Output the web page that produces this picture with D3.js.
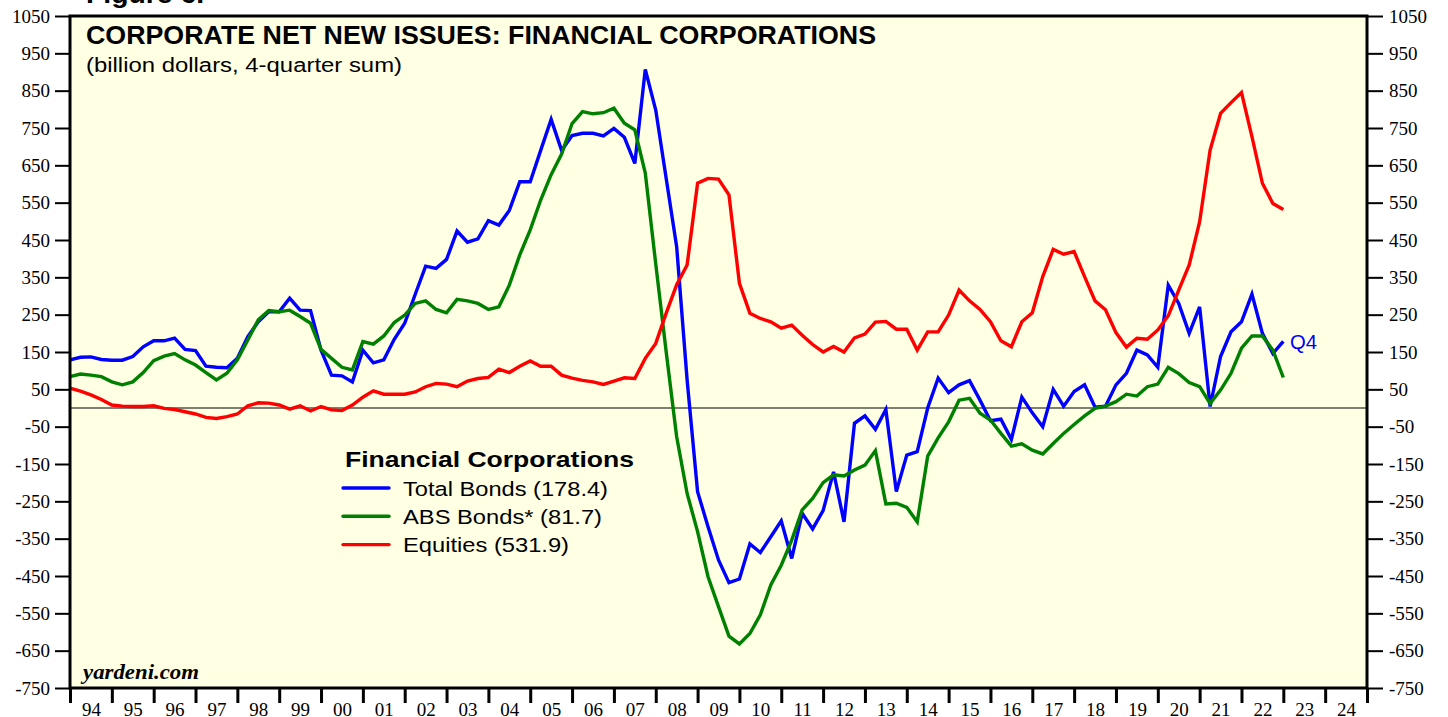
<!DOCTYPE html>
<html>
<head>
<meta charset="utf-8">
<script src="https://cdn.jsdelivr.net/npm/d3@7"></script>
<style>
  html, body { margin: 0; padding: 0; background: #fff; }
  svg { display: block; }
</style>
</head>
<body>
<div id="chart"></div>
<script>
/* Quarterly data, first point = 1993 Q4 (plotted at 1994.0), last = 2022 Q4 */
var startYear = 1994;
var yearLabels = ["94","95","96","97","98","99","00","01","02","03","04","05","06","07","08","09",
                  "10","11","12","13","14","15","16","17","18","19","20","21","22","23","24"];
var yTicks = [-750,-650,-550,-450,-350,-250,-150,-50,50,150,250,350,450,550,650,750,850,950,1050];

var totalBonds = [
  129,136,137,130,128,128,138,164,180,180,187,157,154,112,109,108,
  133,191,231,258,258,294,262,261,155,88,86,70,155,121,129,184,
  227,304,380,374,398,474,444,453,502,490,529,606,606,690,773,690,
  730,736,736,729,749,725,655,907,798,615,432,75,-224,-318,-407,-468,
  -458,-364,-387,-345,-302,-403,-282,-324,-275,-171,-305,-41,-21,-57,-4,-224,
  -126,-117,0,80,41,62,73,21,-34,-30,-84,29,-13,-50,50,5,
  44,62,2,5,62,93,155,142,109,329,280,200,271,4,138,204,
  231,305,200,146,178.4
];
var absBonds = [
  84,91,88,84,70,62,70,95,127,139,146,129,115,95,75,93,
  129,182,236,261,258,262,245,227,157,133,109,102,178,171,193,229,
  249,280,287,264,255,291,287,280,264,271,329,410,477,557,625,680,
  762,794,788,791,803,763,745,629,386,150,-77,-229,-331,-452,-532,-611,
  -632,-604,-554,-474,-421,-354,-273,-242,-200,-179,-182,-166,-153,-114,-257,-255,
  -266,-305,-129,-80,-37,21,26,-14,-32,-68,-102,-96,-113,-123,-95,-68,
  -44,-21,-1,5,17,37,32,57,64,109,92,68,57,12,48,93,
  160,193,193,155,81.7
];
var equities = [
  53,45,35,23,8,5,4,4,6,-1,-4,-10,-16,-25,-28,-23,
  -16,6,14,13,8,-3,6,-8,4,-5,-7,8,29,46,37,37,
  37,43,57,66,64,57,72,79,82,104,95,112,126,112,112,88,
  80,74,70,63,72,81,79,133,173,254,330,383,602,615,613,571,
  334,254,240,231,214,222,195,170,150,165,150,188,198,230,232,211,
  211,155,204,204,249,316,287,264,231,180,164,231,255,352,425,412,
  419,352,287,263,202,163,187,184,209,247,316,383,499,691,789,818,
  845,727,602,548,531.9
];

var seriesNames = ["Total Bonds (178.4)", "ABS Bonds* (81.7)", "Equities (531.9)"];
var seriesColors = ["#0000ff", "#008000", "#ff0000"];

(function () {
  "use strict";

  var W = 1448, H = 717;
  var x0 = 70, x1 = 1367, y0 = 16, y1 = 688;

  var svg = d3.select("#chart").append("svg")
    .attr("width", W).attr("height", H)
    .style("background", "#fff");

  var x = d3.scaleLinear().domain([startYear, startYear + yearLabels.length]).range([x0, x1]);
  var y = d3.scaleLinear().domain([-750, 1050]).range([y1, y0]);

  var sans = "'Liberation Sans', Arial, sans-serif";
  var serif = "'Liberation Serif', 'Times New Roman', serif";

  /* stretched text helper (reference type is wider than Arial) */
  function label(tx, ty, str, size, width, opts) {
    opts = opts || {};
    var t = svg.append("text")
      .attr("x", tx).attr("y", ty)
      .attr("font-family", opts.family || sans)
      .attr("font-size", size)
      .attr("fill", opts.fill || "#000")
      .text(str);
    if (opts.bold) t.attr("font-weight", "bold");
    if (opts.italic) t.attr("font-style", "italic");
    if (width) t.attr("textLength", width).attr("lengthAdjust", "spacingAndGlyphs");
    return t;
  }

  /* partial figure caption cut at the top */
  label(86, 3, "Figure 6.", 25, 118, { bold: true });

  /* plot background */
  svg.append("rect")
    .attr("x", x0).attr("y", y0)
    .attr("width", x1 - x0).attr("height", y1 - y0)
    .attr("fill", "#ffffe3");

  /* zero line */
  svg.append("line")
    .attr("x1", x0).attr("x2", x1)
    .attr("y1", y(0)).attr("y2", y(0))
    .attr("stroke", "#000").attr("stroke-width", 1.1);

  /* ---- Lines ---- */
  var line = d3.line()
    .x(function (d, i) { return x(startYear + i / 4); })
    .y(function (d) { return y(d); });

  [totalBonds, absBonds, equities].forEach(function (s, k) {
    svg.append("path")
      .attr("d", line(s))
      .attr("fill", "none")
      .attr("stroke", seriesColors[k])
      .attr("stroke-width", 3.4)
      .attr("stroke-linejoin", "miter");
  });

  /* frame */
  svg.append("rect")
    .attr("x", x0).attr("y", y0)
    .attr("width", x1 - x0).attr("height", y1 - y0)
    .attr("fill", "none")
    .attr("stroke", "#000").attr("stroke-width", 3);

  /* ---- Axes ---- */
  var fmt = function (d) { return String(d); };

  var left = svg.append("g").attr("transform", "translate(" + x0 + ",0)")
    .call(d3.axisLeft(y).tickValues(yTicks).tickSize(15).tickPadding(5).tickFormat(fmt));
  var right = svg.append("g").attr("transform", "translate(" + x1 + ",0)")
    .call(d3.axisRight(y).tickValues(yTicks).tickSize(16).tickPadding(6).tickFormat(fmt));

  [left, right].forEach(function (g) {
    g.select(".domain").remove();
    g.selectAll(".tick line").attr("stroke", "#000").attr("stroke-width", 2);
    g.selectAll(".tick text")
      .attr("font-family", serif).attr("font-size", 19).attr("fill", "#000");
  });

  var yearTicks = d3.range(startYear, startYear + yearLabels.length + 1);
  var bottom = svg.append("g").attr("transform", "translate(0," + y1 + ")")
    .call(d3.axisBottom(x).tickValues(yearTicks).tickSize(15).tickFormat(""));
  bottom.select(".domain").remove();
  bottom.selectAll(".tick line").attr("stroke", "#000").attr("stroke-width", 3);

  var mids = yearLabels.map(function (d, i) { return startYear + i + 0.5; });
  var labels = svg.append("g").attr("transform", "translate(0," + y1 + ")")
    .call(d3.axisBottom(x).tickValues(mids).tickSize(0).tickPadding(14.5)
      .tickFormat(function (d, i) { return yearLabels[i]; }));
  labels.select(".domain").remove();
  labels.selectAll(".tick text")
    .attr("font-family", serif).attr("font-size", 19).attr("fill", "#000");

  /* ---- Titles ---- */
  label(86, 44, "CORPORATE NET NEW ISSUES: FINANCIAL CORPORATIONS", 25, 790, { bold: true });
  label(86, 72, "(billion dollars, 4-quarter sum)", 20, 316);
  label(83, 679, "yardeni.com", 21, 116, { family: serif, bold: true, italic: true });

  /* Q4 marker */
  label(1290, 349, "Q4", 19.5, 27, { fill: "#0000ff" });

  /* ---- Legend ---- */
  label(345, 467, "Financial Corporations", 22, 289, { bold: true });

  var entryWidths = [205, 199, 166];
  seriesNames.forEach(function (name, k) {
    var ly = 488 + k * 28.3;
    svg.append("line")
      .attr("x1", 343).attr("x2", 389)
      .attr("y1", ly).attr("y2", ly)
      .attr("stroke", seriesColors[k]).attr("stroke-width", 3.4)
      .attr("stroke-linecap", "round");
    label(403, ly + 7.5, name, 20.5, entryWidths[k]);
  });
})();
</script>
</body>
</html>
